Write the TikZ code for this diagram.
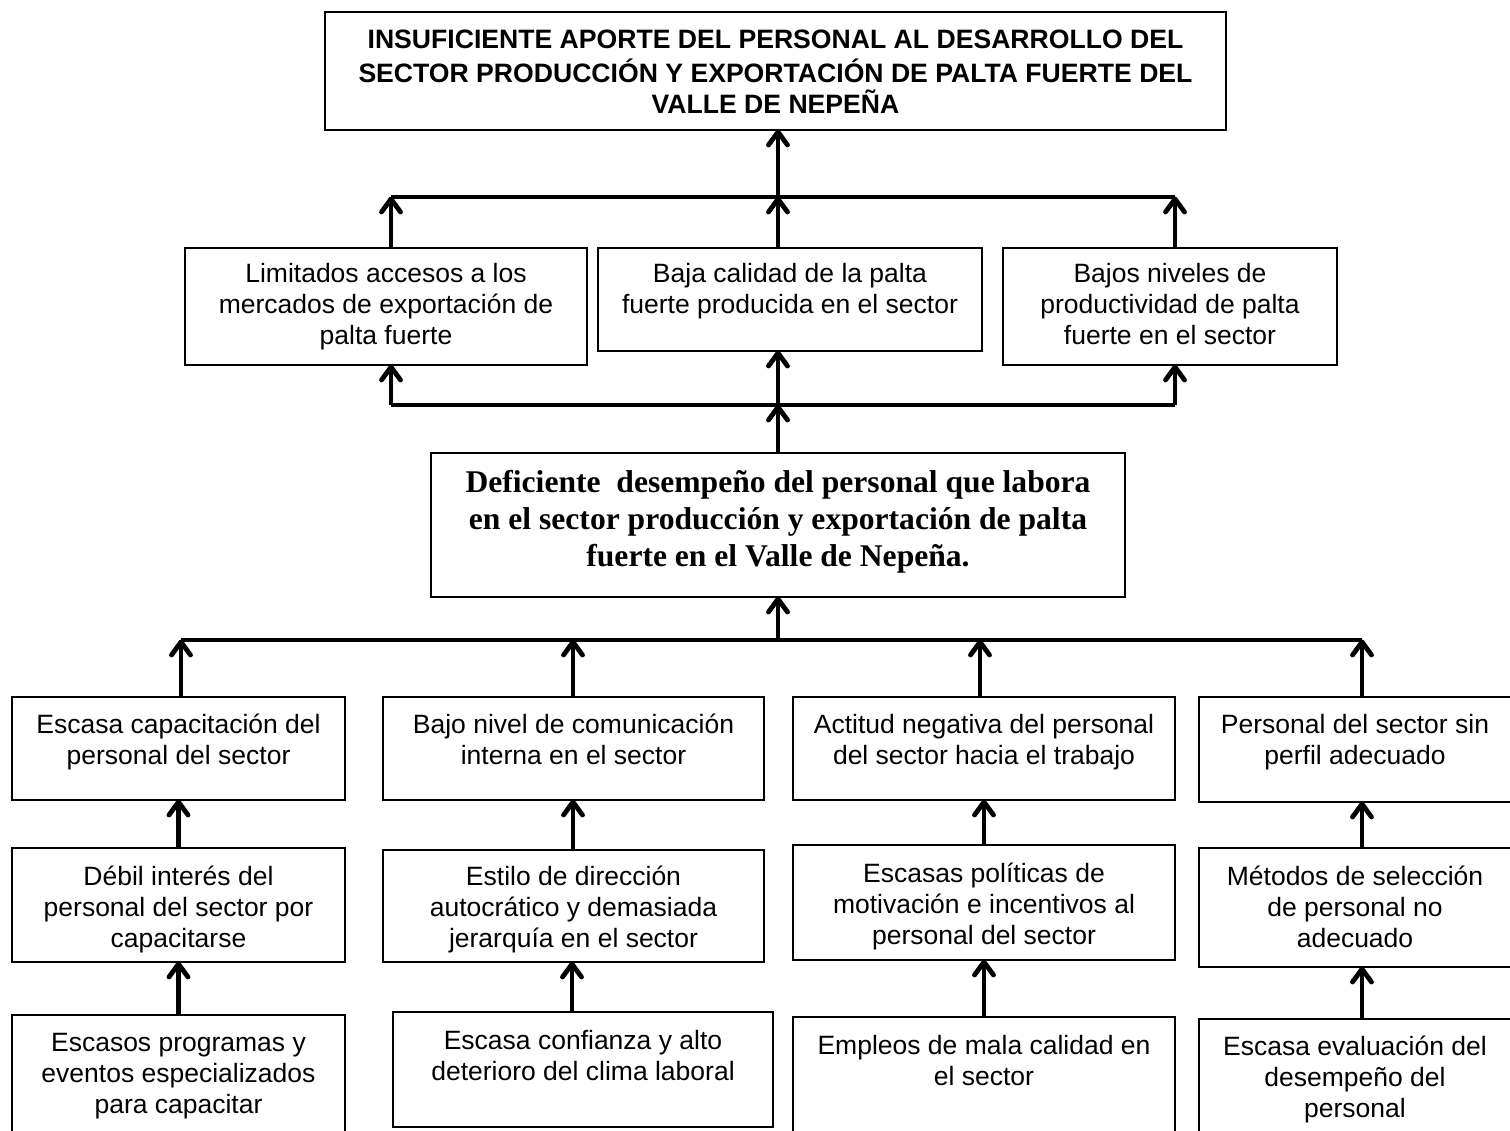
\documentclass[tikz,border=0pt]{standalone}
\usepackage{fontspec}
\setmainfont{Liberation Sans}
\newfontfamily\serifb{Liberation Serif}
\usetikzlibrary{decorations.markings}
\newcommand{\bxt}[4]{\parbox[c][#2][t]{#1}{\centering\vspace*{#3}\strut #4\par}}
\tikzset{
  box/.style={draw, line width=1.4pt, inner sep=0pt, outer sep=0pt, anchor=north west},
  conn/.style={line width=4.5pt},
  arr/.style={line width=4.5pt, postaction={decorate},
    decoration={markings, mark=at position 1 with {\draw[line width=4.8pt, line cap=round, line join=round] (-15pt,9.5pt) -- (-2pt,0pt) -- (-15pt,-9.5pt);}}},
  body/.style={font=\fontsize{26.5}{31}\selectfont},
  titlef/.style={font=\fontsize{26.6}{31.5}\selectfont\bfseries},
  midf/.style={font=\fontsize{31.6}{37}\selectfont\serifb\bfseries}
}
\begin{document}
\begin{tikzpicture}[x=1pt,y=-1pt]
\useasboundingbox (0,0) rectangle (1510,1130);
% top
\node[box,titlef] (T) at (325,12) {\bxt{901pt}{118pt}{14pt}{INSUFICIENTE APORTE DEL PERSONAL AL DESARROLLO DEL\\ SECTOR PRODUCCIÓN Y EXPORTACIÓN DE PALTA FUERTE DEL\\ VALLE DE NEPEÑA}};
% level 2
\node[box,body] (A) at (185,248) {\bxt{402pt}{117pt}{13pt}{Limitados accesos a los\\ mercados de exportación de\\ palta fuerte}};
\node[box,body] (B) at (598,248) {\bxt{384pt}{103pt}{13pt}{Baja calidad de la palta\\ fuerte producida en el sector}};
\node[box,body] (C) at (1003,248) {\bxt{334pt}{117pt}{13pt}{Bajos niveles de\\ productividad de palta\\ fuerte en el sector}};
% middle
\node[box,midf] (M) at (431,453) {\bxt{694pt}{144pt}{14pt}{Deficiente~ desempeño del personal que labora\\ en el sector producción y exportación de palta\\ fuerte en el Valle de Nepeña.}};
% level 3
\node[box,body] (L31) at (12,697) {\bxt{333pt}{103pt}{15pt}{Escasa capacitación del\\ personal del sector}};
\node[box,body] (L32) at (383,697) {\bxt{381pt}{103pt}{15pt}{Bajo nivel de comunicación\\ interna en el sector}};
\node[box,body] (L33) at (793,697) {\bxt{382pt}{103pt}{15pt}{Actitud negativa del personal\\ del sector hacia el trabajo}};
\node[box,body] (L34) at (1199,697) {\bxt{312pt}{105pt}{15pt}{Personal del sector sin\\ perfil adecuado}};
% level 4
\node[box,body] (L41) at (12,848) {\bxt{333pt}{114pt}{16pt}{Débil interés del\\ personal del sector por\\ capacitarse}};
\node[box,body] (L42) at (383,850) {\bxt{381pt}{112pt}{14pt}{Estilo de dirección\\ autocrático y demasiada\\ jerarquía en el sector}};
\node[box,body] (L43) at (793,845) {\bxt{382pt}{115pt}{16pt}{Escasas políticas de\\ motivación e incentivos al\\ personal del sector}};
\node[box,body] (L44) at (1199,848) {\bxt{312pt}{119pt}{16pt}{Métodos de selección\\ de personal no\\ adecuado}};
% level 5
\node[box,body] (L51) at (12,1015) {\bxt{333pt}{120pt}{15pt}{Escasos programas y\\ eventos especializados\\ para capacitar}};
\node[box,body] (L52) at (393,1012) {\bxt{380pt}{115pt}{16pt}{Escasa confianza y alto\\ deterioro del clima laboral}};
\node[box,body] (L53) at (793,1017) {\bxt{382pt}{118pt}{16pt}{Empleos de mala calidad en\\ el sector}};
\node[box,body] (L54) at (1199,1019) {\bxt{312pt}{116pt}{15pt}{Escasa evaluación del\\ desempeño del\\ personal}};
% buses
\coordinate (b1L) at (391,197); \coordinate (b1M) at (778,197); \coordinate (b1R) at (1175,197);
\coordinate (b2L) at (391,405); \coordinate (b2M) at (778,405); \coordinate (b2R) at (1175,405);
\coordinate (b3a) at (181,640); \coordinate (b3b) at (573,640); \coordinate (b3M) at (778,640);
\coordinate (b3c) at (980,640); \coordinate (b3d) at (1362,640);
\coordinate (c2) at (573,0); \coordinate (c2b) at (572,0); \coordinate (c4) at (1362,0);
\draw[conn] (b1L) -- (b1R);
\draw[conn] (b2L) -- (b2R);
\draw[conn] (b3a) -- (b3d);
% level 2 to top
\draw[arr] (b1M) -- (b1M |- T.south);
\draw[arr] (A.north -| b1L) -- (b1L);
\draw[arr] (B.north -| b1M) -- (b1M);
\draw[arr] (C.north -| b1R) -- (b1R);
% middle to level 2
\draw[arr] (M.north) -- (b2M);
\draw[arr] (b2L) -- (A.south -| b2L);
\draw[arr] (b2M) -- (B.south -| b2M);
\draw[arr] (b2R) -- (C.south -| b2R);
% level 3 to middle
\draw[arr] (b3M) -- (M.south);
\draw[arr] (L31.north -| b3a) -- (b3a);
\draw[arr] (L32.north -| b3b) -- (b3b);
\draw[arr] (L33.north -| b3c) -- (b3c);
\draw[arr] (L34.north -| b3d) -- (b3d);
% level 4 to level 3
\draw[arr] (L41.north) -- (L31.south);
\draw[arr] (L42.north -| c2) -- (L32.south -| c2);
\draw[arr] (L43.north) -- (L33.south -| L43.north);
\draw[arr] (L44.north -| c4) -- (L34.south -| c4);
% level 5 to level 4
\draw[arr] (L51.north) -- (L41.south);
\draw[arr] (L52.north -| c2b) -- (L42.south -| c2b);
\draw[arr] (L53.north) -- (L43.south -| L53.north);
\draw[arr] (L54.north -| c4) -- (L44.south -| c4);
\end{tikzpicture}
\end{document}
